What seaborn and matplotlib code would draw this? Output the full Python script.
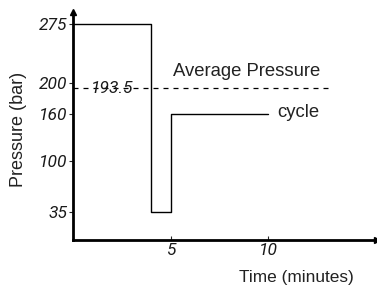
import matplotlib
matplotlib.use("Agg")
import matplotlib.pyplot as plt
import seaborn as sns

# === DATA ===
time_min = [0, 4, 4, 5, 5, 10]
pressure_bar = [275, 275, 35, 35, 160, 160]
avg_span = [0, 13.1]
avg_pressure = 193.5
y_ticks = [35, 100, 160, 200, 275]
x_ticks = [5, 10]

sns.set_style("white")
plt.rcParams["font.family"] = ["Liberation Sans", "DejaVu Sans"]

fig = plt.figure(figsize=(3.77, 2.86), dpi=100)
ax = fig.add_axes([0.194, 0.161, 0.806, 0.796])

# cycle trace
sns.lineplot(x=time_min, y=pressure_bar, estimator=None, sort=False,
             color="black", linewidth=1.0, ax=ax)

# average pressure line
sns.lineplot(x=avg_span, y=[avg_pressure, avg_pressure], estimator=None,
             color="black", linewidth=0.9, ax=ax)
ax.lines[-1].set_dashes((4, 4))

ax.set_xlim(0, 15.6)
ax.set_ylim(0, 290)

# axes with arrows
for side in ["top", "right"]:
    ax.spines[side].set_visible(False)
for side in ["left", "bottom"]:
    ax.spines[side].set_linewidth(2.0)
    ax.spines[side].set_color("black")
ax.plot(0, 1, marker="^", color="black", markersize=5, transform=ax.transAxes, clip_on=False)
ax.plot(1, 0, marker=">", color="black", markersize=5, transform=ax.transAxes, clip_on=False)

tick_font = dict(family=["Roboto", "DejaVu Sans"], style="italic", weight="normal",
                 size=12.5, color="#1a1a1a")
ax.set_yticks(y_ticks)
ax.set_yticklabels([str(v) for v in y_ticks], fontdict=tick_font)
ax.set_xticks(x_ticks)
ax.set_xticklabels([str(v) for v in x_ticks], fontdict=tick_font)
ax.tick_params(axis="y", direction="out", length=3, width=0.8, pad=1, left=True)
ax.tick_params(axis="x", direction="in", length=3, width=0.8, pad=2, bottom=True)

# annotations
ax.text(2.0, avg_pressure, "193.5", ha="center", va="center", **tick_font)
ax.text(5.15, 214, "Average Pressure", ha="left", va="center", fontsize=13.3, color="#222222")
ax.text(10.5, 162, "cycle", ha="left", va="center", fontsize=13.3, color="#222222")

ax.set_xlabel("")
ax.set_ylabel("")
fig.text(0.05, 0.549, "Pressure (bar)", rotation=90, ha="center", va="center",
         fontsize=13, color="#222222")
fig.text(0.787, 0.028, "Time (minutes)", ha="center", va="center",
         fontsize=12.4, color="#222222")

fig.savefig("out.png", dpi=100)
